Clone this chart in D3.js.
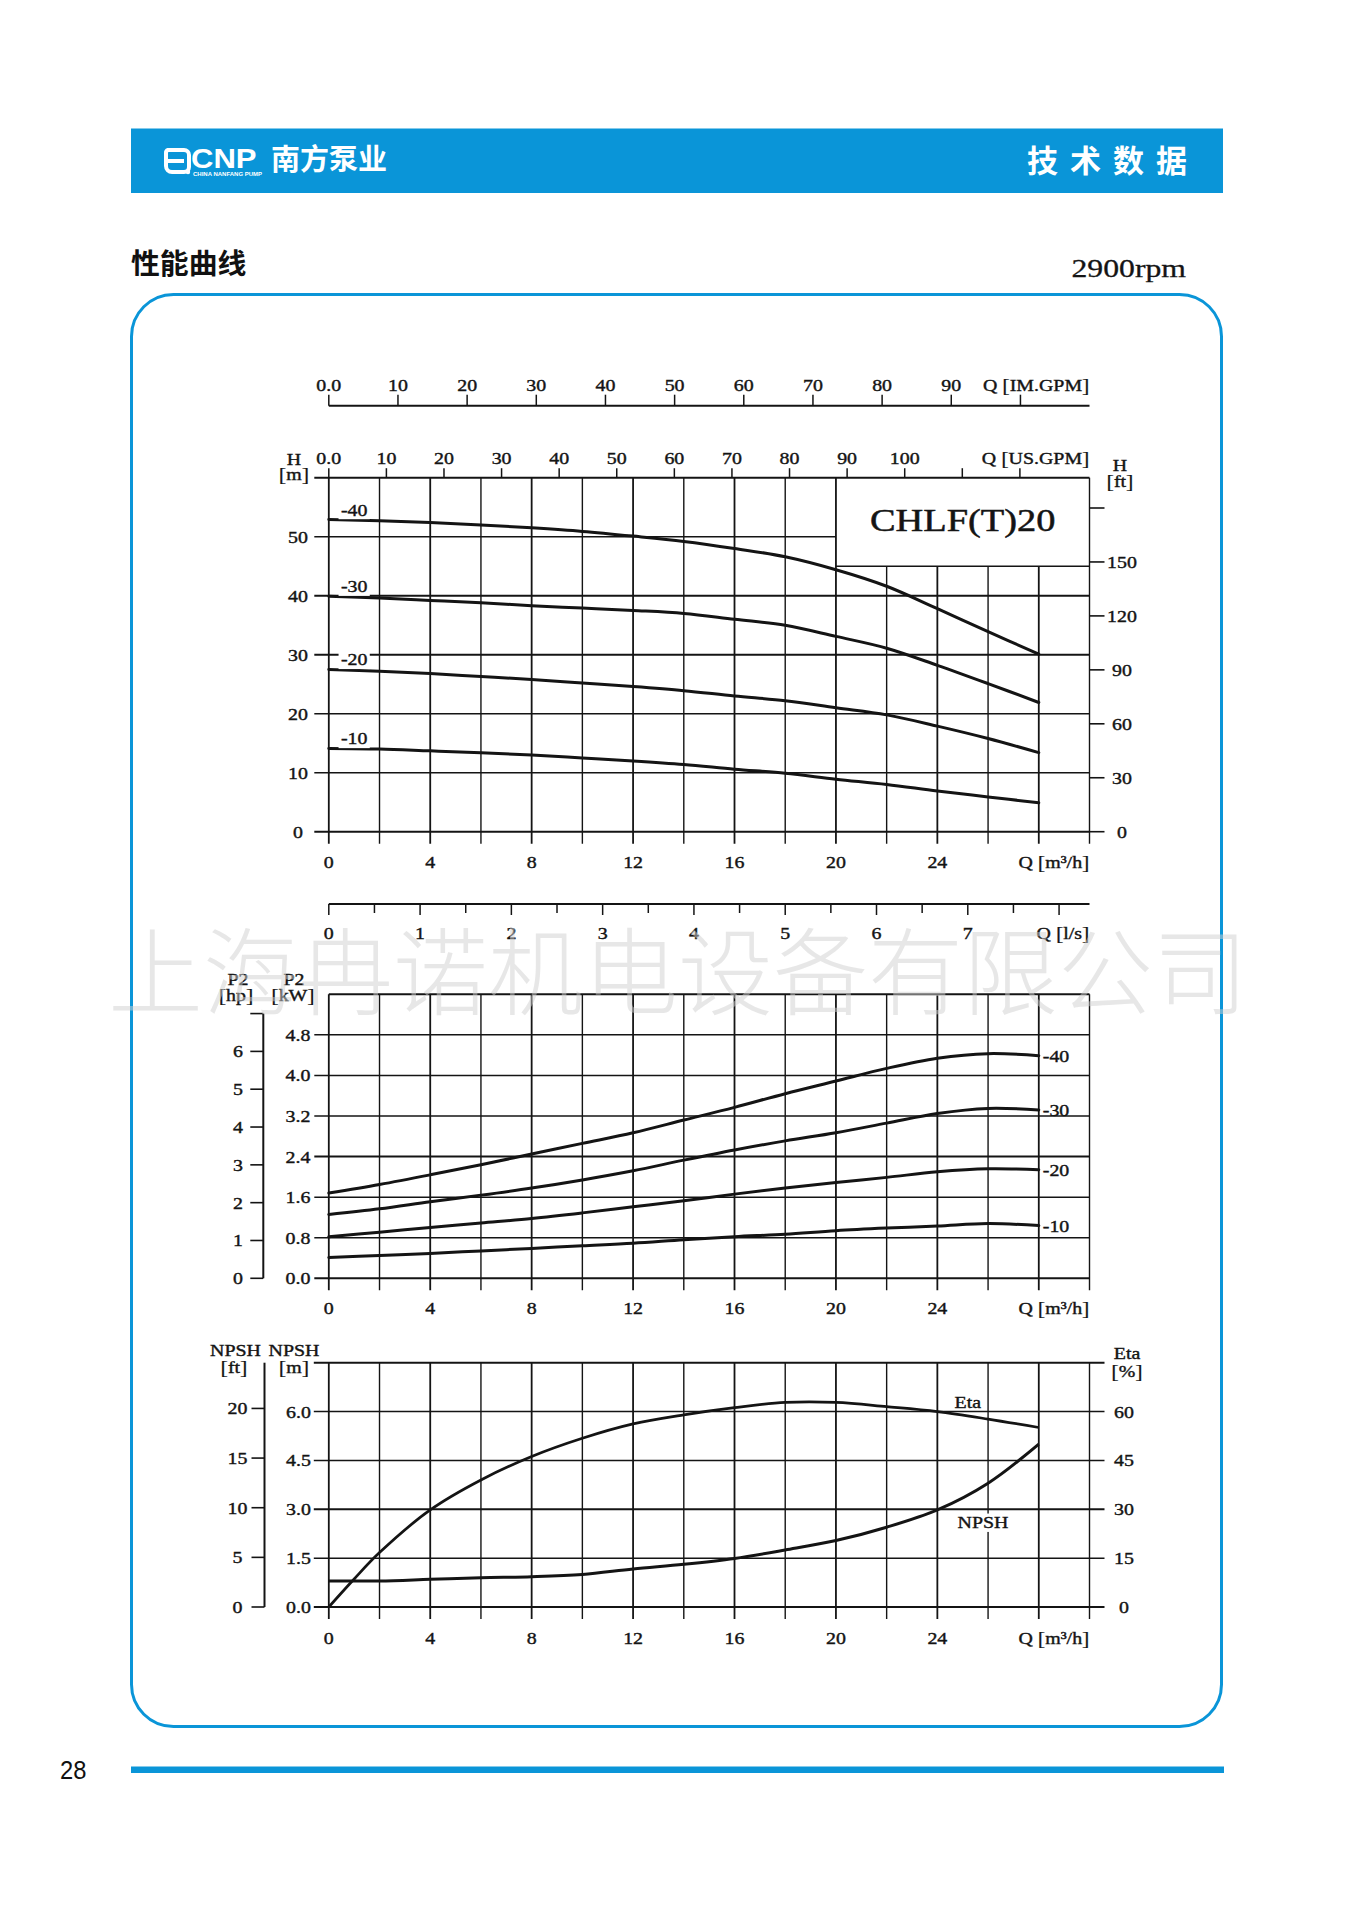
<!DOCTYPE html>
<html><head><meta charset="utf-8">
<script src="https://cdn.jsdelivr.net/npm/d3@7"></script>
<style>body{margin:0;background:#fff}svg{display:block}</style>
</head><body>
<svg id="c" width="1357" height="1920"></svg>
<script>
// ---------------- DATA ----------------
const flowQ = [0,2,4,6,8,10,12,14,16,18,20,22,24,26,28];           // m3/h
const stageNames = ["-40","-30","-20","-10"];
const head40 = [52.9,52.7,52.4,52.0,51.5,50.9,50.1,49.2,48.0,46.6,44.4,41.6,37.8,33.9,30.1];
const head30 = [39.9,39.6,39.2,38.8,38.3,37.9,37.5,37.0,36.0,35.0,33.1,31.1,28.2,25.1,21.9];
const head20 = [27.5,27.2,26.8,26.3,25.8,25.2,24.6,23.9,23.0,22.2,21.0,19.8,17.9,15.8,13.4];
const head10 = [14.1,14.0,13.7,13.4,13.0,12.5,12.0,11.4,10.6,9.9,8.9,8.0,6.9,5.9,4.9];
const power40 = [1.68,1.85,2.04,2.24,2.45,2.66,2.87,3.12,3.37,3.64,3.89,4.14,4.34,4.43,4.39];
const power30 = [1.26,1.37,1.51,1.64,1.78,1.94,2.12,2.33,2.53,2.71,2.87,3.06,3.25,3.35,3.32];
const power20 = [0.82,0.91,1.00,1.09,1.18,1.29,1.41,1.53,1.66,1.78,1.89,1.99,2.10,2.16,2.14];
const power10 = [0.41,0.45,0.49,0.54,0.59,0.64,0.69,0.76,0.82,0.87,0.94,0.99,1.03,1.08,1.04];
const npshVals = [0.80,0.80,0.85,0.90,0.93,1.00,1.17,1.31,1.49,1.75,2.04,2.45,2.98,3.80,5.00]; // m
const etaFlow = [0,1,2,4,6,8,10,12,14,16,18,20,22,24,26,28];
const etaVals = [0,8.6,16.7,29.8,39.0,46.2,51.8,56.2,59.0,61.2,62.8,62.8,61.5,60.0,57.7,55.1]; // %

// tick values / labels
const qGrid = [0,2,4,6,8,10,12,14,16,18,20,22,24,26,28,30];
const qLabels = [0,4,8,12,16,20,24];
const imTicks = [0,10,20,30,40,50,60,70,80,90,100];
const imLabels = ["0.0","10","20","30","40","50","60","70","80","90"];
const usTicks = [0,10,20,30,40,50,60,70,80,90,100,110,120];
const usLabels = ["0.0","10","20","30","40","50","60","70","80","90","100"];
const lsTicks = [0,0.5,1,1.5,2,2.5,3,3.5,4,4.5,5,5.5,6,6.5,7,7.5,8];
const lsLabels = [0,1,2,3,4,5,6,7];
const hTicks = [0,10,20,30,40,50,60];
const hLabels = ["0","10","20","30","40","50"];
const ftTicks = [0,30,60,90,120,150,180];
const ftLabels = ["0","30","60","90","120","150"];
const kwTicks = [0,0.8,1.6,2.4,3.2,4.0,4.8,5.6];
const kwLabels = ["0.0","0.8","1.6","2.4","3.2","4.0","4.8"];
const hpTicks = [0,1,2,3,4,5,6,7];
const hpLabels = ["0","1","2","3","4","5","6"];
const npTicks = [0,1.5,3.0,4.5,6.0,7.5];
const npLabels = ["0.0","1.5","3.0","4.5","6.0"];
const npFtTicks = [0,5,10,15,20];
const etaTicks = [0,15,30,45,60,75];
const etaLabels = ["0","15","30","45","60"];

// ---------------- SETUP ----------------
const svg = d3.select('#c');
const BLUE = '#0a95d8';
const INK = '#141414';
const serif = '"Liberation Serif","Times New Roman",serif';
const cjk = '"Noto Sans CJK SC","Noto Sans",sans-serif';
const SX = 1.17;

function txt(g, x, y, s, o = {}) {
  const gg = g.append('g').attr('transform', `translate(${x},${y}) scale(${o.sx ?? SX},1)`);
  const t = gg.append('text')
    .attr('text-anchor', o.anchor || 'middle').attr('dy', '0.35em')
    .attr('font-family', o.font || serif).attr('font-size', o.size || 17)
    .attr('fill', o.fill || INK);
  if (!o.font) t.attr('stroke', o.fill || INK).attr('stroke-width', o.sw ?? 0.4);
  if (o.weight) t.attr('font-weight', o.weight);
  if (o.ls) t.attr('letter-spacing', o.ls);
  t.text(s);
  if (o.bg) {
    const b = t.node().getBBox();
    gg.insert('rect', 'text').attr('x', b.x - 2).attr('y', b.y).attr('width', b.width + 4)
      .attr('height', b.height).attr('fill', '#fff');
  }
  return t;
}
// label with slightly taller brackets, e.g. "[m]" ; prefix optional ("Q ")
function bracket(g, x, y, inner, anchor = 'middle', prefix = '') {
  const gg = g.append('g').attr('transform', `translate(${x},${y}) scale(${SX},1)`);
  const t = gg.append('text').attr('text-anchor', anchor).attr('dy', '0.35em')
    .attr('font-family', serif).attr('font-size', 17).attr('fill', INK)
    .attr('stroke', INK).attr('stroke-width', 0.4);
  if (prefix) t.append('tspan').text(prefix);
  t.append('tspan').attr('font-size', 19).attr('stroke-width', 0.2).attr('dy', '0.03em').text('[');
  t.append('tspan').attr('dy', '-0.03em').text(inner);
  t.append('tspan').attr('font-size', 19).attr('stroke-width', 0.2).attr('dy', '0.03em').text(']');
  return t;
}
function line(g, x1, y1, x2, y2, w = 1.5) {
  g.append('line').attr('x1', x1).attr('y1', y1).attr('x2', x2).attr('y2', y2)
    .attr('stroke', INK).attr('stroke-width', w);
}

const X0 = 328.8, X1 = 1089.5;
const xQ = d3.scaleLinear().domain([0, 30]).range([X0, X1]);
const xIM = d3.scaleLinear().domain([0, 30 * 3.66615]).range([X0, X1]);
const xUS = d3.scaleLinear().domain([0, 30 * 4.40287]).range([X0, X1]);
const xLS = d3.scaleLinear().domain([0, 30 / 3.6]).range([X0, X1]);

const yH = d3.scaleLinear().domain([0, 60]).range([831.7, 477.7]);
const yFt = d3.scaleLinear().domain([0, 60 * 3.28084]).range([831.7, 477.7]);
const yP = d3.scaleLinear().domain([0, 5.6]).range([1278.3, 994.3]);
const yHp = d3.scaleLinear().domain([0, 5.6 / 0.7457]).range([1278.3, 994.3]);
const yN = d3.scaleLinear().domain([0, 7.5]).range([1607, 1362.7]);
const yNft = d3.scaleLinear().domain([0, 7.5 * 3.28084]).range([1607, 1362.7]);
const yEta = d3.scaleLinear().domain([0, 75]).range([1607, 1362.7]);

const curve = d3.curveCatmullRom.alpha(0.5);

// ---------------- HEADER ----------------
const hd = svg.append('g');
hd.append('rect').attr('x', 131).attr('y', 128.5).attr('width', 1092).attr('height', 64.5).attr('fill', BLUE);
hd.append('path').attr('d', 'M168,150 h16 a5,5 0 0 1 5,5 v12 a5,5 0 0 1 -5,5 h-12 a6,6 0 0 1 -6,-6 v-13 a3,3 0 0 1 2,-3 z')
  .attr('fill', 'none').attr('stroke', '#fff').attr('stroke-width', 4);
hd.append('rect').attr('x', 166).attr('y', 159).attr('width', 18).attr('height', 4).attr('fill', '#fff');
hd.append('circle').attr('cx', 188).attr('cy', 172).attr('r', 2.2).attr('fill', '#fff');
txt(hd, 191, 159, 'CNP', { anchor: 'start', font: '"Liberation Sans",Arial,sans-serif', size: 27, weight: 'bold', fill: '#fff', sx: 1.15 });
txt(hd, 193, 174, 'CHINA NANFANG PUMP', { anchor: 'start', font: '"Liberation Sans",Arial,sans-serif', size: 5, weight: 'bold', fill: '#fff', sx: 1.2 });
txt(hd, 271, 160, '南方泵业', { anchor: 'start', font: cjk, size: 29, weight: 'bold', fill: '#fff', sx: 1 });
txt(hd, 1027, 161, '技术数据', { anchor: 'start', font: cjk, size: 31, weight: 'bold', fill: '#fff', sx: 1, ls: 12 });

txt(svg, 131, 264, '性能曲线', { anchor: 'start', font: cjk, size: 28, weight: 'bold', fill: '#111', sx: 1.03 });
txt(svg, 1186, 268, '2900rpm', { anchor: 'end', size: 26, sx: 1.22, sw: 0.3 });

// frame
svg.append('rect').attr('x', 131.5).attr('y', 294.5).attr('width', 1090).attr('height', 1432)
  .attr('rx', 42).attr('fill', 'none').attr('stroke', BLUE).attr('stroke-width', 3);

// footer
svg.append('rect').attr('x', 131).attr('y', 1766.5).attr('width', 1093).attr('height', 6.5).attr('fill', BLUE);
txt(svg, 60, 1770, '28', { anchor: 'start', font: '"Liberation Sans",Arial,sans-serif', size: 25, sx: 0.95, fill: '#111' });

// ---------------- TOP Q AXES ----------------
const ax = svg.append('g');
const yIM = 405.7;
line(ax, X0, yIM, X1, yIM, 2);
imTicks.forEach(v => line(ax, xIM(v), yIM, xIM(v), yIM - 11, 1.5));
imLabels.forEach((s, i) => txt(ax, xIM(imTicks[i]), 385, s));
bracket(ax, X1, 385, 'IM.GPM', 'end', 'Q ');

const yUS = yH(60);
usTicks.forEach(v => line(ax, xUS(v), yUS, xUS(v), yUS - 9.5, 1.5));
usLabels.forEach((s, i) => txt(ax, xUS(usTicks[i]), 458, s));
bracket(ax, X1, 458, 'US.GPM', 'end', 'Q ');

// ---------------- H CHART ----------------
const gH = svg.append('g');
const boxBottom = yH(45);
qGrid.forEach(q => {
  const top = (q > 20 && q < 30) ? boxBottom : yH(60);
  line(gH, xQ(q), top, xQ(q), yH(0) + 12, (q % 4 === 0) ? 1.8 : 1.4);
});
hTicks.forEach(h => {
  const xe = (h === 50) ? xQ(20) : X1;
  line(gH, X0 - 14.5, yH(h), xe, yH(h), (h === 30 || h === 40 || h === 0 || h === 60) ? 2 : 1.5);
});
line(gH, xQ(20), boxBottom, X1, boxBottom, 1.6);
txt(gH, (xQ(20) + X1) / 2, (yH(60) + boxBottom) / 2 - 2, 'CHLF(T)20', { size: 32, sx: 1.2, sw: 0.5 });
hLabels.forEach((s, i) => txt(gH, 298, yH(hTicks[i]), s));
ftTicks.forEach(f => line(gH, X1, yFt(f), X1 + 15, yFt(f), 1.6));
ftLabels.forEach((s, i) => txt(gH, 1122, yFt(ftTicks[i]), s));
qLabels.forEach(q => txt(gH, xQ(q), 862, String(q)));
bracket(gH, X1, 862, 'm³/h', 'end', 'Q ');
txt(gH, 294, 459, 'H');
bracket(gH, 294, 480, 'm');
txt(gH, 1120, 465, 'H');
bracket(gH, 1120, 487, 'ft');

const headSeries = [head40, head30, head20, head10];
const lineH = d3.line().x((d, i) => xQ(flowQ[i])).y(d => yH(d)).curve(curve);
headSeries.forEach((s, k) => {
  gH.append('path').attr('d', lineH(s)).attr('fill', 'none').attr('stroke', INK)
    .attr('stroke-width', 3).attr('stroke-linecap', 'round');
  txt(gH, xQ(1), yH(s[0]) - 10, stageNames[k], { bg: true });
});

// ---------------- L/S AXIS ----------------
const yLS = 904;
line(ax, X0, yLS, X1, yLS, 2);
lsTicks.forEach(v => line(ax, xLS(v), yLS, xLS(v), yLS + (Number.isInteger(v) ? 11 : 9), 1.5));
lsLabels.forEach(v => txt(ax, xLS(v), 933, String(v)));
bracket(ax, X1, 933, 'l/s', 'end', 'Q ');

// ---------------- P2 CHART ----------------
const gP = svg.append('g');
qGrid.forEach(q => line(gP, xQ(q), yP(5.6), xQ(q), yP(0) + 12, (q % 4 === 0) ? 1.8 : 1.4));
kwTicks.forEach(v => line(gP, v === 5.6 ? X0 : X0 - 14.5, yP(v), X1, yP(v), (Math.abs(v - 2.4) < 1e-6 || v === 0 || v === 5.6) ? 2 : 1.5));
kwLabels.forEach((s, i) => txt(gP, 298, yP(kwTicks[i]), s));
const xHp = 263.3;
line(gP, xHp, yHp(0), xHp, yHp(7), 2);
hpTicks.forEach(v => line(gP, xHp - 13, yHp(v), xHp, yHp(v), 1.6));
hpLabels.forEach((s, i) => txt(gP, 238, yHp(hpTicks[i]), s));
qLabels.forEach(q => txt(gP, xQ(q), 1308, String(q)));
bracket(gP, X1, 1308, 'm³/h', 'end', 'Q ');
txt(gP, 238, 979, 'P2');
bracket(gP, 236, 1001, 'hp');
txt(gP, 294, 979, 'P2');
bracket(gP, 293, 1001, 'kW');

const powerSeries = [power40, power30, power20, power10];
const lineP = d3.line().x((d, i) => xQ(flowQ[i])).y(d => yP(d)).curve(curve);
powerSeries.forEach((s, k) => {
  gP.append('path').attr('d', lineP(s)).attr('fill', 'none').attr('stroke', INK)
    .attr('stroke-width', 3).attr('stroke-linecap', 'round');
  txt(gP, xQ(28) + 4, yP(s[s.length - 1]), stageNames[k], { anchor: 'start' });
});

// ---------------- NPSH / ETA CHART ----------------
const gN = svg.append('g');
qGrid.forEach(q => line(gN, xQ(q), yN(7.5), xQ(q), yN(0) + 12, (q % 4 === 0) ? 1.8 : 1.4));
npTicks.forEach(v => line(gN, X0 - 15, yN(v), X1 + 15, yN(v), (v === 3 || v === 0 || v === 7.5) ? 2 : 1.5));
npLabels.forEach((s, i) => txt(gN, 298.5, yN(npTicks[i]), s));
etaLabels.forEach((s, i) => txt(gN, 1124, yEta(etaTicks[i]), s));
const xNft = 264.5;
line(gN, xNft, yN(0), xNft, yN(7.5), 2);
npFtTicks.forEach(v => {
  line(gN, xNft - 13, yNft(v), xNft, yNft(v), 1.6);
  txt(gN, 237.5, yNft(v), String(v));
});
qLabels.forEach(q => txt(gN, xQ(q), 1638, String(q)));
bracket(gN, X1, 1638, 'm³/h', 'end', 'Q ');
txt(gN, 235.5, 1350, 'NPSH');
bracket(gN, 234, 1373, 'ft');
txt(gN, 294, 1350, 'NPSH');
bracket(gN, 294, 1373, 'm');
txt(gN, 1127, 1353, 'Eta');
bracket(gN, 1127, 1377, '%');

const lineN = d3.line().x((d, i) => xQ(flowQ[i])).y(d => yN(d)).curve(curve);
const lineE = d3.line().x((d, i) => xQ(etaFlow[i])).y(d => yEta(d)).curve(curve);
gN.append('path').attr('d', lineE(etaVals)).attr('fill', 'none').attr('stroke', INK).attr('stroke-width', 2.7);
gN.append('path').attr('d', lineN(npshVals)).attr('fill', 'none').attr('stroke', INK).attr('stroke-width', 3);
txt(gN, xQ(25.2), yEta(etaVals[13]) - 10, 'Eta');
txt(gN, xQ(25.8), yN(2.6), 'NPSH', { bg: true });

// ---------------- WATERMARK ----------------
svg.append('text').attr('x', 678).attr('y', 974).attr('dy', '0.36em').attr('text-anchor', 'middle')
  .attr('font-family', cjk).attr('font-weight', 300).attr('font-size', 95)
  .attr('fill', '#cfcfcf').attr('fill-opacity', 0.5)
  .text('上海冉诺机电设备有限公司');
</script>
</body></html>
